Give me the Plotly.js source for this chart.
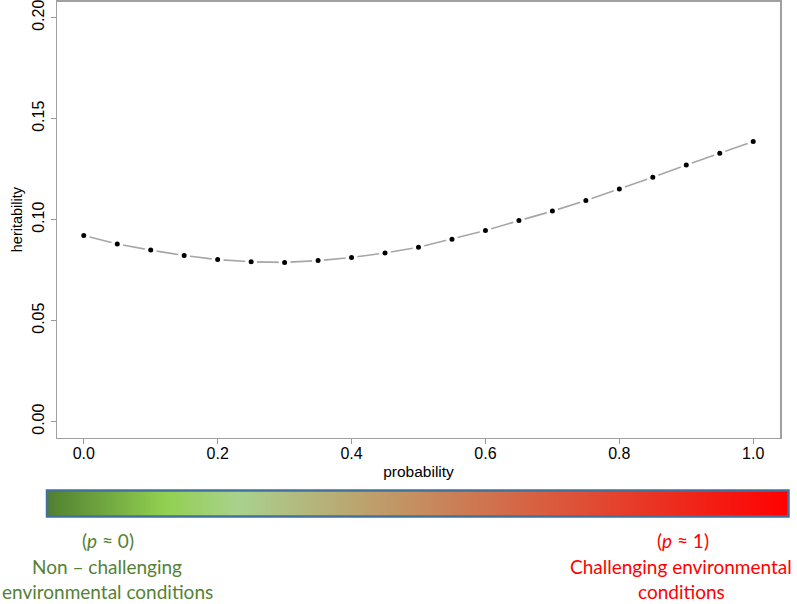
<!DOCTYPE html>
<html>
<head>
<meta charset="utf-8">
<script src="https://cdn.plot.ly/plotly-3.0.1.min.js"></script>
<style>html,body{margin:0;padding:0;background:#fff;}#chart{width:797px;height:604px;}</style>
</head>
<body>
<div id="chart"></div>
<script>
// data
var probability = [0.00, 0.05, 0.10, 0.15, 0.20, 0.25, 0.30, 0.35, 0.40, 0.45, 0.50,
                   0.55, 0.60, 0.65, 0.70, 0.75, 0.80, 0.85, 0.90, 0.95, 1.00];
var heritability = [0.0921, 0.0879, 0.0849, 0.0822, 0.0802, 0.0791, 0.0788, 0.0797, 0.0812, 0.0835, 0.0863,
                    0.0903, 0.0946, 0.0995, 0.1042, 0.1095, 0.1151, 0.1210, 0.1270, 0.1328, 0.1387];
var xTicks = [0.0, 0.2, 0.4, 0.6, 0.8, 1.0];
var xTickText = ["0.0", "0.2", "0.4", "0.6", "0.8", "1.0"];
var yTicks = [0.00, 0.05, 0.10, 0.15, 0.20];
var yTickText = ["0.00", "0.05", "0.10", "0.15", "0.20"];
// gradient bar (p from 0 to 1)
var gradientX = [0, 1];
var gradientZ = [[0, 1]];
var gradientScale = [[0, "#507F30"], [0.16, "#92D050"], [0.26, "#A9D18E"], [1, "#FF0000"]];

var W = 797, H = 604;
function px(x){ return x / W; }
function py(y){ return 1 - y / H; }

var traces = [
  {
    x: probability, y: heritability, type: "scatter", mode: "lines+markers",
    line: {color: "#a6a6a6", width: 1.6},
    marker: {color: "#000", size: 8.5, line: {color: "#fff", width: 3.5}},
    hoverinfo: "skip", xaxis: "x", yaxis: "y", showlegend: false
  },
  {
    x: gradientX, y: [0], z: gradientZ, type: "heatmap", zsmooth: "best",
    colorscale: gradientScale, showscale: false, zmin: 0, zmax: 1,
    xaxis: "x2", yaxis: "y2", hoverinfo: "skip"
  }
];

var axisFont = {family: "Liberation Sans, Arial, sans-serif", size: 16, color: "#000"};
var annFont = function(c){ return {family: "Lato, sans-serif", size: 19, color: c}; };

var layout = {
  width: W, height: H,
  margin: {l: 0, r: 0, t: 0, b: 0},
  paper_bgcolor: "#fff", plot_bgcolor: "#fff",
  showlegend: false,
  xaxis: {
    domain: [px(57), px(780)], range: [-0.04, 1.04],
    tickvals: xTicks, ticktext: xTickText,
    ticks: "outside", ticklen: 5, tickcolor: "#999", tickwidth: 1, ticklabelstandoff: -4,
    ticklabeloverflow: "allow",
    showline: true, linecolor: "#a0a0a0", linewidth: 1.5, mirror: true,
    showgrid: false, zeroline: false, tickfont: axisFont,
    title: {text: "probability", font: {family: "Liberation Sans, Arial, sans-serif", size: 15.5, color: "#000"}, standoff: 4},
    anchor: "y"
  },
  yaxis: {
    domain: [py(437.7), py(1.5)], range: [-0.008, 0.208],
    tickvals: yTicks, ticktext: yTickText, tickangle: -90,
    ticks: "outside", ticklen: 5, tickcolor: "#999", tickwidth: 1,
    ticklabeloverflow: "allow",
    showline: true, linecolor: "#a0a0a0", linewidth: 1.5, mirror: true,
    showgrid: false, zeroline: false, tickfont: axisFont,
    title: {text: "heritability", font: {family: "Liberation Sans, Arial, sans-serif", size: 14.5, color: "#000"}, standoff: 4},
    anchor: "x"
  },
  xaxis2: {domain: [px(46), px(789)], range: [0, 1], visible: false, anchor: "y2", fixedrange: true},
  yaxis2: {domain: [py(517), py(490)], range: [-0.5, 0.5], visible: false, anchor: "x2", fixedrange: true},
  shapes: [
    {type: "rect", xref: "paper", yref: "paper", x0: px(47), x1: px(788.5), y0: py(516.5), y1: py(490.5),
     line: {color: "#41719C", width: 2.5}, fillcolor: "rgba(0,0,0,0)"}
  ],
  annotations: [
    {text: "(<i>p</i> ≈ 0)", x: px(108), y: py(540), xref: "paper", yref: "paper", showarrow: false, font: annFont("#548235"), xanchor: "center", yanchor: "middle"},
    {text: "Non – challenging", x: px(107), y: py(566), xref: "paper", yref: "paper", showarrow: false, font: annFont("#548235"), xanchor: "center", yanchor: "middle"},
    {text: "environmental conditions", x: px(107), y: py(591), xref: "paper", yref: "paper", showarrow: false, font: annFont("#548235"), xanchor: "center", yanchor: "middle"},
    {text: "(<i>p</i> ≈ 1)", x: px(683), y: py(540), xref: "paper", yref: "paper", showarrow: false, font: annFont("#FF0000"), xanchor: "center", yanchor: "middle"},
    {text: "Challenging environmental", x: px(681), y: py(566), xref: "paper", yref: "paper", showarrow: false, font: annFont("#FF0000"), xanchor: "center", yanchor: "middle"},
    {text: "conditions", x: px(681), y: py(591), xref: "paper", yref: "paper", showarrow: false, font: annFont("#FF0000"), xanchor: "center", yanchor: "middle"}
  ]
};

Plotly.newPlot("chart", traces, layout, {staticPlot: true, displayModeBar: false});
</script>
</body>
</html>
